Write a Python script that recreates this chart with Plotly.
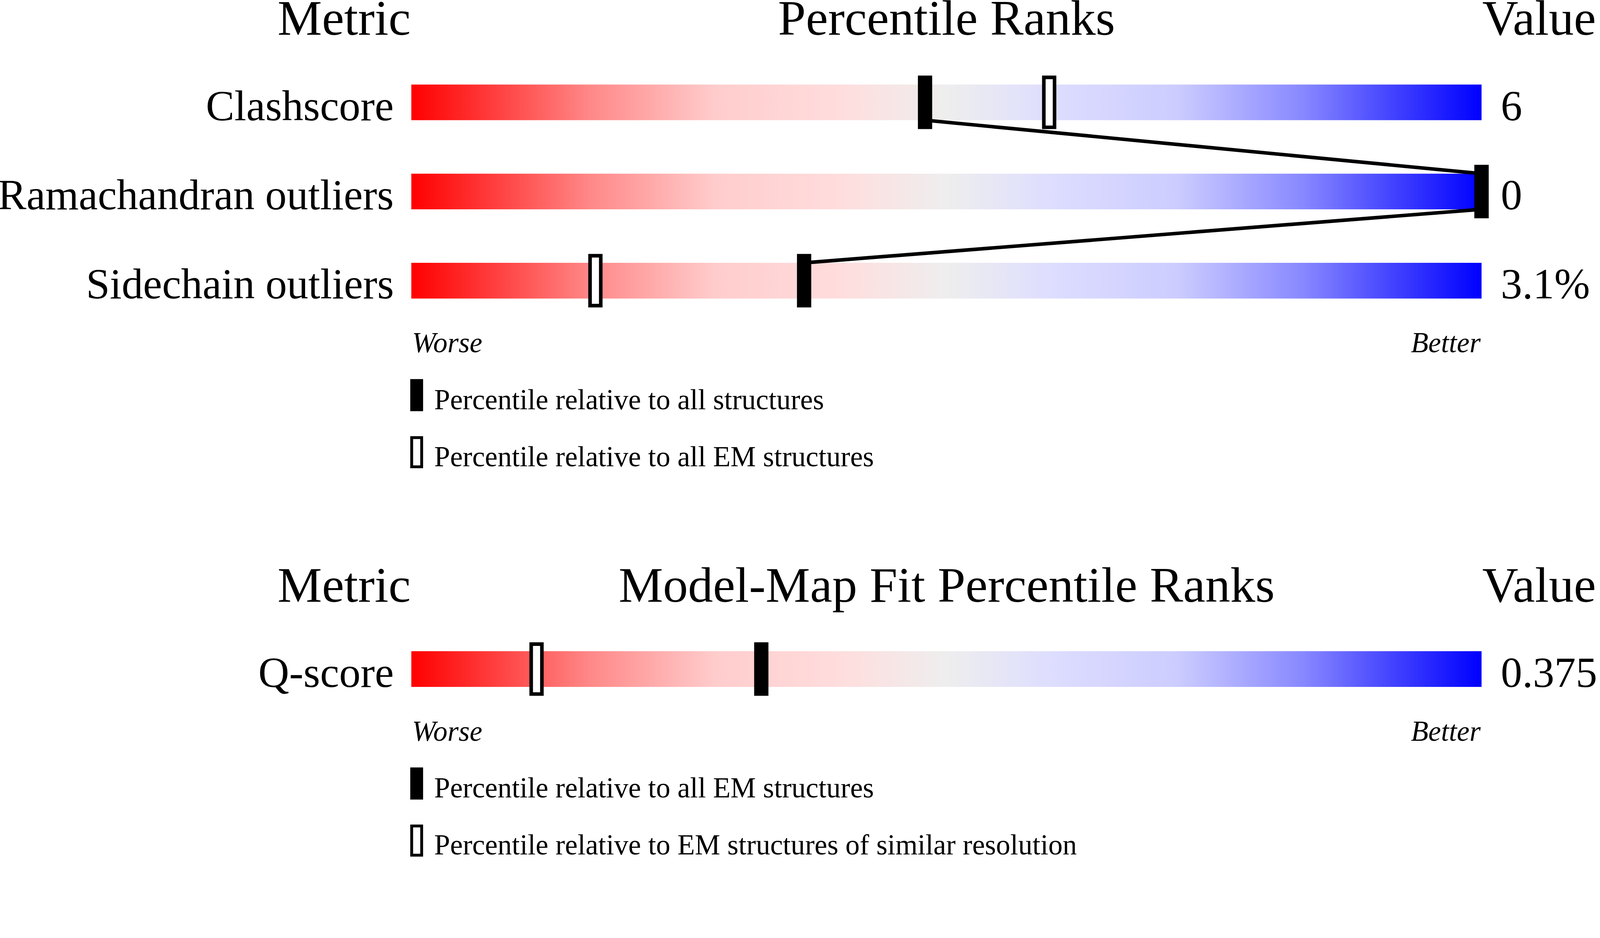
import plotly.graph_objects as go

# geometry / validation metrics
metrics = ["Clashscore", "Ramachandran outliers", "Sidechain outliers"]
metric_values = ["6", "0", "3.1%"]
pct_all = [48.0, 100.0, 36.7]    # percentile relative to all structures
pct_em = [59.6, 100.0, 17.2]     # percentile relative to all EM structures
legend_geom = ["Percentile relative to all structures", "Percentile relative to all EM structures"]

# model-map fit
fit_metrics = ["Q-score"]
fit_values = ["0.375"]
fit_pct_em = [32.7]              # relative to all EM structures
fit_pct_res = [11.7]             # relative to EM structures of similar resolution
legend_fit = ["Percentile relative to all EM structures", "Percentile relative to EM structures of similar resolution"]

W, H = 4485, 2402
X0, PX = 1153, 30.0          # pixel x of percentile 0, pixels per percentile point
BAR_H, ROW_GAP, TICK = 100, 250, 150
FONT = "Liberation Serif"

gradient = [[0.0, "#ff0000"], [0.1, "#ff5050"], [0.167, "#ff8888"], [0.284, "#ffcccc"],
            [0.4, "#ffdddd"], [0.5, "#eeeeee"], [0.6, "#ddddff"], [0.716, "#ccccff"],
            [0.833, "#8888ff"], [0.9, "#5050ff"], [1.0, "#0000ff"]]


def u(px):
    return (px - X0) / PX


fig = go.Figure()
shapes = []
annotations = []


def text(x, y, s, size, anchor):
    annotations.append(dict(x=x, y=y, xref="x", yref="y", text=s, showarrow=False,
                            xanchor=anchor, yanchor="middle",
                            font=dict(family=FONT, size=size, color="black")))


def solid_mark(x0, x1, y0, y1):
    shapes.append(dict(type="rect", xref="x", yref="y", x0=x0, x1=x1, y0=y0, y1=y1,
                       fillcolor="black", line=dict(width=0), layer="above"))


def hollow_mark(x0, x1, y0, y1, lw=10):
    shapes.append(dict(type="rect", xref="x", yref="y", x0=x0, x1=x1, y0=y0, y1=y1,
                       fillcolor="white", line=dict(color="black", width=lw), layer="above"))


def section(top, title, names, values, solid, hollow, legend, connect):
    text(0, top, "Metric", 140, "right")
    text(50, top, title, 140, "center")
    text(100, top, "Value", 140, "left")
    centers = [top + 237 + i * ROW_GAP for i in range(len(names))]
    for yc, name, val in zip(centers, names, values):
        fig.add_trace(go.Scatter(x=[0, 100, 100, 0, 0],
                                 y=[yc - BAR_H / 2, yc - BAR_H / 2, yc + BAR_H / 2, yc + BAR_H / 2, yc - BAR_H / 2],
                                 fill="toself", mode="lines", line=dict(width=0),
                                 fillgradient=dict(type="horizontal", colorscale=gradient),
                                 hoverinfo="skip", showlegend=False))
        text(u(1106), yc + 9, name, 120, "right")
        text(u(4205), yc + 9, val, 120, "left")
    if connect:
        lx, ly = [], []
        for yc, p in zip(centers, solid):
            lx += [p, p]
            ly += [yc - BAR_H / 2, yc + BAR_H / 2]
        fig.add_trace(go.Scatter(x=lx[1:-1], y=ly[1:-1], mode="lines",
                                 line=dict(color="black", width=10),
                                 hoverinfo="skip", showlegend=False))
    for yc, p in zip(centers, hollow):
        hollow_mark(p - 15 / PX, p + 15 / PX, yc - 70, yc + 70)
    for yc, p in zip(centers, solid):
        solid_mark(p - 20 / PX, p + 20 / PX, yc - TICK / 2, yc + TICK / 2)
    bottom = centers[-1] + BAR_H / 2
    text(0, bottom + 124, "<i>Worse</i>", 80, "left")
    text(100, bottom + 124, "<i>Better</i>", 80, "right")
    l1 = bottom + 271
    l2 = l1 + 160
    solid_mark(u(1150), u(1186), l1 - 45, l1 + 45)
    hollow_mark(u(1154), u(1182), l2 - 41, l2 + 41, lw=8)
    text(u(1215), l1 + 12, legend[0], 80, "left")
    text(u(1215), l2 + 12, legend[1], 80, "left")


section(50, "Percentile Ranks", metrics, metric_values, pct_all, pct_em, legend_geom, True)
section(1639, "Model-Map Fit Percentile Ranks", fit_metrics, fit_values, fit_pct_em, fit_pct_res, legend_fit, False)

fig.update_layout(
    width=W, height=H, margin=dict(l=0, r=0, t=0, b=0),
    paper_bgcolor="white", plot_bgcolor="white",
    xaxis=dict(range=[u(0), u(W)], visible=False, fixedrange=True),
    yaxis=dict(range=[H, 0], visible=False, fixedrange=True),
    shapes=shapes, annotations=annotations, showlegend=False,
)
# fit the fixed-size figure to the browser viewport
fig.write_html("out.html", config={"displayModeBar": False}, post_script=(
    "document.body.style.margin='0';document.body.style.overflow='hidden';"
    "document.body.style.zoom=window.innerWidth/%d;" % W))
